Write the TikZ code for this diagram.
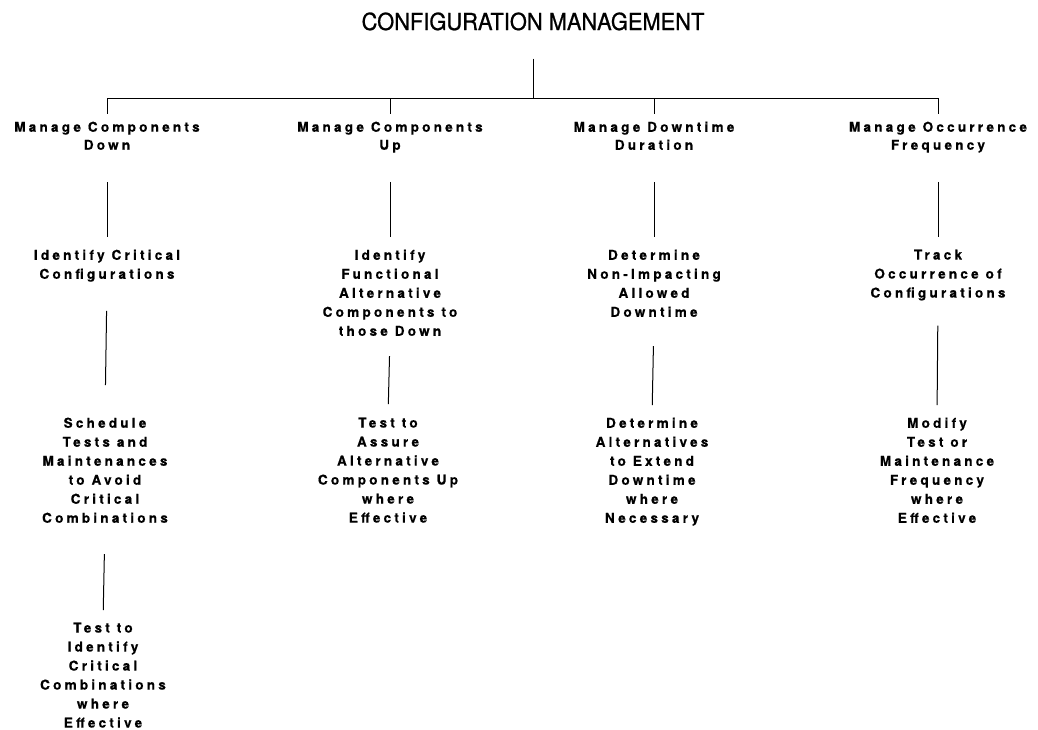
\documentclass[tikz,border=0pt]{standalone}
\usepackage{fontspec}
\setmainfont{texgyreheros-regular.otf}
\newfontfamily\titlefont[FakeStretch=0.93,FakeBold=0.8]{texgyreheros-regular.otf}
\newfontfamily\labelfont[LetterSpace=24,FakeBold=0.6]{texgyreheros-bold.otf}
\begin{document}
\begin{tikzpicture}[x=1pt,y=-1pt,
  heading/.style={font=\titlefont\fontsize{23.5}{28}\selectfont, inner sep=0pt, anchor=base},
  task/.style={font=\labelfont\fontsize{13.5}{19}\selectfont, align=center, inner sep=0pt, anchor=north},
  toptask/.style={task, font=\labelfont\fontsize{13.5}{18}\selectfont},
  link/.style={line width=1pt}]
\useasboundingbox (0,0) rectangle (1038,729);

% title and top-level branches
\node[heading] (cm) at (533,30) {CONFIGURATION MANAGEMENT};
\coordinate (hub) at (533,98);

\node[toptask] (down) at (107,121.5) {Manage Components\\Down};
\node[toptask] (up)   at (390,121.5) {Manage Components\\Up};
\node[toptask] (dur)  at (654,121.5) {Manage Downtime\\Duration};
\node[toptask] (freq) at (938,121.5) {Manage Occurrence\\Frequency};

% second level
\node[task] (crit)  at (107,249.5) {Identify Critical\\Configurations};
\node[task] (func)  at (390,249.5) {Identify\\Functional\\Alternative\\Components to\\those Down};
\node[task] (nonimp) at (654,249.5) {Determine\\Non-Impacting\\Allowed\\Downtime};
\node[task] (track) at (938,249.5) {Track\\Occurrence of\\Configurations};

% third level
\node[task] (sched) at (105,417.5) {Schedule\\Tests and\\Maintenances\\to Avoid\\Critical\\Combinations};
\node[task] (assure) at (388,417.5) {Test to\\Assure\\Alternative\\Components Up\\where\\Effective};
\node[task] (extend) at (652,417.5) {Determine\\Alternatives\\to Extend\\Downtime\\where\\Necessary};
\node[task] (modify) at (937,417.5) {Modify\\Test or\\Maintenance\\Frequency\\where\\Effective};

% fourth level
\node[task] (identify) at (103,622.5) {Test to\\Identify\\Critical\\Combinations\\where\\Effective};

% tree connectors
\draw[link, shorten <=28pt] (cm.south) -- (hub);
\draw[link] (down.north |- hub) -- (freq.north |- hub);
\foreach \n in {down,up,dur,freq}
  \draw[link, shorten >=7.5pt] (\n.north |- hub) -- (\n.north);

\draw[link, shorten <=32pt, shorten >=12.5pt] (down.south) -- (crit.north);
\draw[link, shorten <=29pt, shorten >=12.5pt] (up.south) -- (func.north);
\draw[link, shorten <=32pt, shorten >=12.5pt] (dur.south) -- (nonimp.north);
\draw[link, shorten <=29pt, shorten >=12.5pt] (freq.south) -- (track.north);

\draw[link, shorten <=29pt, shorten >=32.5pt] (crit.south) -- (sched.north);
\draw[link, shorten <=20pt, shorten >=13.5pt] (func.south) -- (assure.north);
\draw[link, shorten <=29pt, shorten >=12.5pt] (nonimp.south) -- (extend.north);
\draw[link, shorten <=25pt, shorten >=12.5pt] (track.south) -- (modify.north);

\draw[link, shorten <=31pt, shorten >=12.5pt] (sched.south) -- (identify.north);
\end{tikzpicture}
\end{document}
